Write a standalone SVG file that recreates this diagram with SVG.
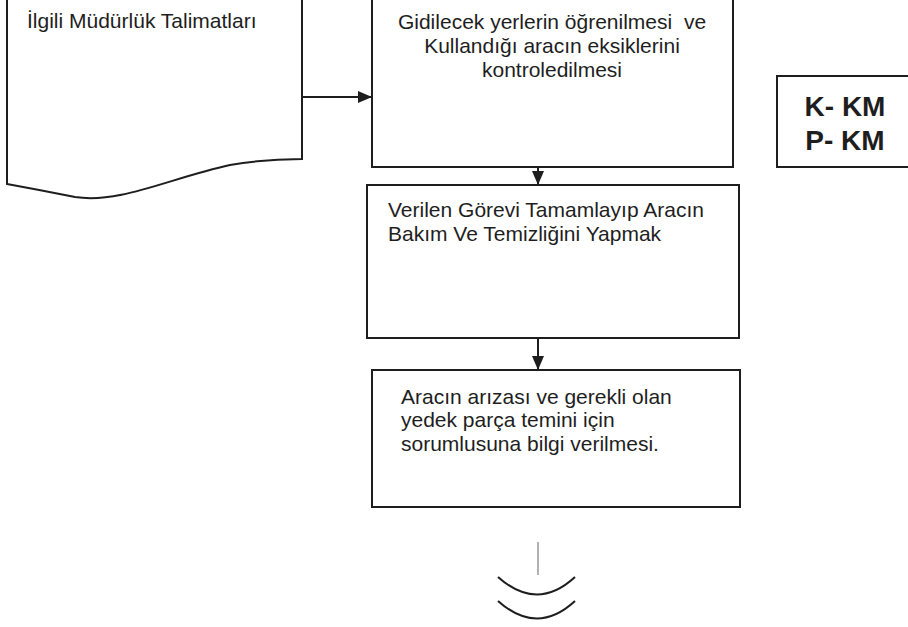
<svg xmlns="http://www.w3.org/2000/svg" width="908" height="627" viewBox="0 0 908 627">
<style>
.box{fill:none;stroke:#1e1e1e;stroke-width:2}
.t{font-family:"Liberation Sans",Arial,sans-serif;font-size:21px;fill:#1e1e1e;white-space:pre}
.b{font-family:"Liberation Sans",Arial,sans-serif;font-size:28px;font-weight:bold;fill:#1e1e1e}
.c{fill:none;stroke:#1e1e1e;stroke-width:2}
</style>
<defs>
<marker id="ah" viewBox="0 0 14 12" refX="14" refY="6" markerWidth="14" markerHeight="12" markerUnits="userSpaceOnUse" orient="auto">
<path d="M0,0 L14,6 L0,12 Z" fill="#1e1e1e"/>
</marker>
</defs>
<rect width="908" height="627" fill="#ffffff"/>
<g id="doc">
<path class="box" d="M7,-5 L7,184 Q40,190 75,197 C120,204 170,178 230,165 Q265,159 302,159 L302,-5"/>
<text class="t" x="27" y="28">İlgili Müdürlük Talimatları</text>
</g>
<g id="step1">
<rect class="box" x="372" y="-5" width="361" height="172"/>
<text class="t" text-anchor="middle" x="552" y="29">Gidilecek yerlerin öğrenilmesi  ve</text>
<text class="t" text-anchor="middle" x="552" y="53">Kullandığı aracın eksiklerini</text>
<text class="t" text-anchor="middle" x="552" y="77">kontroledilmesi</text>
</g>
<g id="kkm">
<rect class="box" x="777" y="76" width="140" height="91"/>
<text class="b" text-anchor="middle" x="845" y="116">K- KM</text>
<text class="b" text-anchor="middle" x="845" y="150">P- KM</text>
</g>
<g id="step2">
<rect class="box" x="367" y="185" width="372" height="153"/>
<text class="t" x="388" y="217">Verilen Görevi Tamamlayıp Aracın</text>
<text class="t" x="388" y="241">Bakım Ve Temizliğini Yapmak</text>
</g>
<g id="step3">
<rect class="box" x="372" y="370" width="368" height="137"/>
<text class="t" x="401" y="404">Aracın arızası ve gerekli olan</text>
<text class="t" x="401" y="427">yedek parça temini için</text>
<text class="t" x="401" y="451">sorumlusuna bilgi verilmesi.</text>
</g>
<g id="connectors">
<line class="c" x1="303" y1="97" x2="372" y2="97" marker-end="url(#ah)"/>
<line class="c" x1="538" y1="167" x2="538" y2="185" marker-end="url(#ah)"/>
<line class="c" x1="538" y1="338" x2="538" y2="370" marker-end="url(#ah)"/>
<line x1="538" y1="542" x2="538" y2="575" stroke="#999" stroke-width="1.5"/>
<path class="c" d="M498,577 Q537,612 575,577"/>
<path class="c" d="M498,601 Q537,636 575,601"/>
</g>
</svg>
